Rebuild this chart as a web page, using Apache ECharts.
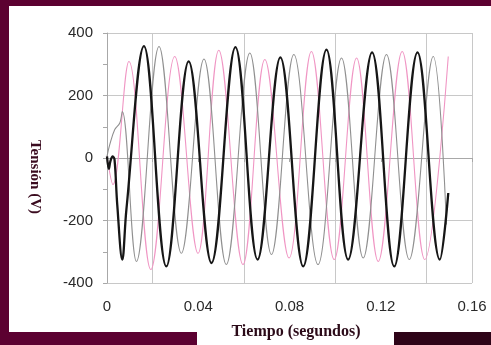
<!DOCTYPE html>
<html>
<head>
<meta charset="utf-8">
<script src="https://cdn.jsdelivr.net/npm/echarts@6/dist/echarts.min.js"></script>
<style>
  html, body { margin: 0; padding: 0; background: #fff; }
  #chart { width: 491px; height: 345px; }
</style>
</head>
<body>
<div id="chart"></div>
<script>
// valores: tiempo (s) y tensión (V)
const blackTime = [0, 0.0008, 0.0015, 0.0025, 0.0033, 0.0045, 0.0067, 0.0085, 0.0162, 0.0260, 0.0358, 0.0458, 0.0563, 0.0660, 0.0760, 0.0860, 0.0962, 0.1057, 0.1162, 0.1259, 0.1361, 0.1459, 0.1496]
const blackVolt = [5, -35, -10, 5, -5, -150, -325, -165, 358, -347, 309, -336, 355, -325, 322, -347, 347, -325, 338, -347, 338, -325, -112]

const grayTime = [0, 0.0012, 0.0034, 0.0056, 0.0067, 0.0129, 0.0228, 0.0326, 0.0425, 0.0523, 0.0626, 0.0721, 0.0819, 0.0925, 0.1028, 0.1123, 0.1225, 0.1325, 0.1430, 0.1488]
const grayVolt = [5, 43, 91, 112, 149, -331, 357, -305, 317, -341, 336, -309, 331, -341, 320, -320, 331, -325, 325, -213]

const pinkTime = [0, 0.0026, 0.0096, 0.0192, 0.0297, 0.0399, 0.0490, 0.0596, 0.0692, 0.0798, 0.0896, 0.0996, 0.1094, 0.1189, 0.1294, 0.1393, 0.1496]
const pinkVolt = [5, -85, 309, -357, 325, -305, 345, -341, 315, -320, 341, -325, 320, -331, 341, -325, 325]

const xTickLabels = ['0', '', '0.04', '', '0.08', '', '0.12', '', '0.16']
const yTickLabels = ['-400', '-200', '0', '200', '400']

const zip = (ts, vs) => ts.map((t, i) => [t, vs[i]])

const chart = echarts.init(document.getElementById('chart'))

const labelFont = { fontFamily: 'Liberation Sans', fontSize: 15, color: '#2a2a2a' }

const option = {
  backgroundColor: '#ffffff',
  animation: false,
  grid: { left: 107, top: 33, right: 19, bottom: 62, containLabel: false },
  xAxis: {
    type: 'value',
    min: 0,
    max: 0.16,
    interval: 0.02,
    axisLine: { show: true, lineStyle: { color: '#a8a8a8', width: 1 } },
    axisTick: { show: true, length: 4, lineStyle: { color: '#a8a8a8' } },
    axisLabel: {
      ...labelFont,
      margin: 16,
      formatter: (v) => xTickLabels[Math.round(v * 50)] || '',
    },
    splitLine: {
      show: true,
      lineStyle: {
        // rejilla solo en 0.02, 0.06, 0.10, 0.14 y borde en 0.16
        color: ['transparent', '#c8c8c8', 'transparent', '#c8c8c8', 'transparent', '#c8c8c8', 'transparent', '#c8c8c8', '#c8c8c8'],
      },
    },
  },
  yAxis: {
    type: 'value',
    min: -400,
    max: 400,
    interval: 200,
    axisLine: { show: true, lineStyle: { color: '#a8a8a8', width: 1 } },
    axisTick: { show: true, length: 4, lineStyle: { color: '#a8a8a8' } },
    minorTick: { show: true, splitNumber: 2, length: 4, lineStyle: { color: '#a8a8a8' } },
    axisLabel: {
      ...labelFont,
      margin: 14,
      formatter: (v) => yTickLabels[Math.round((v + 400) / 200)],
    },
    splitLine: { show: true, lineStyle: { color: '#c8c8c8' } },
  },
  graphic: [
    // marco granate
    { type: 'rect', shape: { x: 0, y: 0, width: 491, height: 6 }, style: { fill: '#5c0131' }, silent: true },
    { type: 'rect', shape: { x: 0, y: 0, width: 9, height: 345 }, style: { fill: '#5c0131' }, silent: true },
    { type: 'rect', shape: { x: 0, y: 332, width: 197, height: 13 }, style: { fill: '#5c0131' }, silent: true },
    { type: 'rect', shape: { x: 394, y: 332, width: 97, height: 13 }, style: { fill: '#2e0418' }, silent: true },
    {
      type: 'text',
      x: 35,
      y: 177,
      rotation: -Math.PI / 2,
      style: {
        text: 'Tensión (V)',
        font: 'bold 15px "Liberation Serif"',
        fill: '#3a0b1f',
        align: 'center',
        verticalAlign: 'middle',
      },
    },
    {
      type: 'text',
      x: 296,
      y: 332,
      style: {
        text: 'Tiempo (segundos)',
        font: 'bold 16px "Liberation Serif"',
        fill: '#2b0a18',
        align: 'center',
        verticalAlign: 'middle',
      },
    },
  ],
  series: [
    {
      type: 'line',
      data: zip(pinkTime, pinkVolt),
      smooth: 0.38,
      showSymbol: false,
      lineStyle: { color: '#f096c4', width: 1.1 },
    },
    {
      type: 'line',
      data: zip(grayTime, grayVolt),
      smooth: 0.38,
      showSymbol: false,
      lineStyle: { color: '#909090', width: 1.1 },
    },
    {
      type: 'line',
      data: zip(blackTime, blackVolt),
      smooth: 0.38,
      showSymbol: false,
      lineStyle: { color: '#161616', width: 2.3 },
    },
  ],
}

chart.setOption(option)
</script>
</body>
</html>
